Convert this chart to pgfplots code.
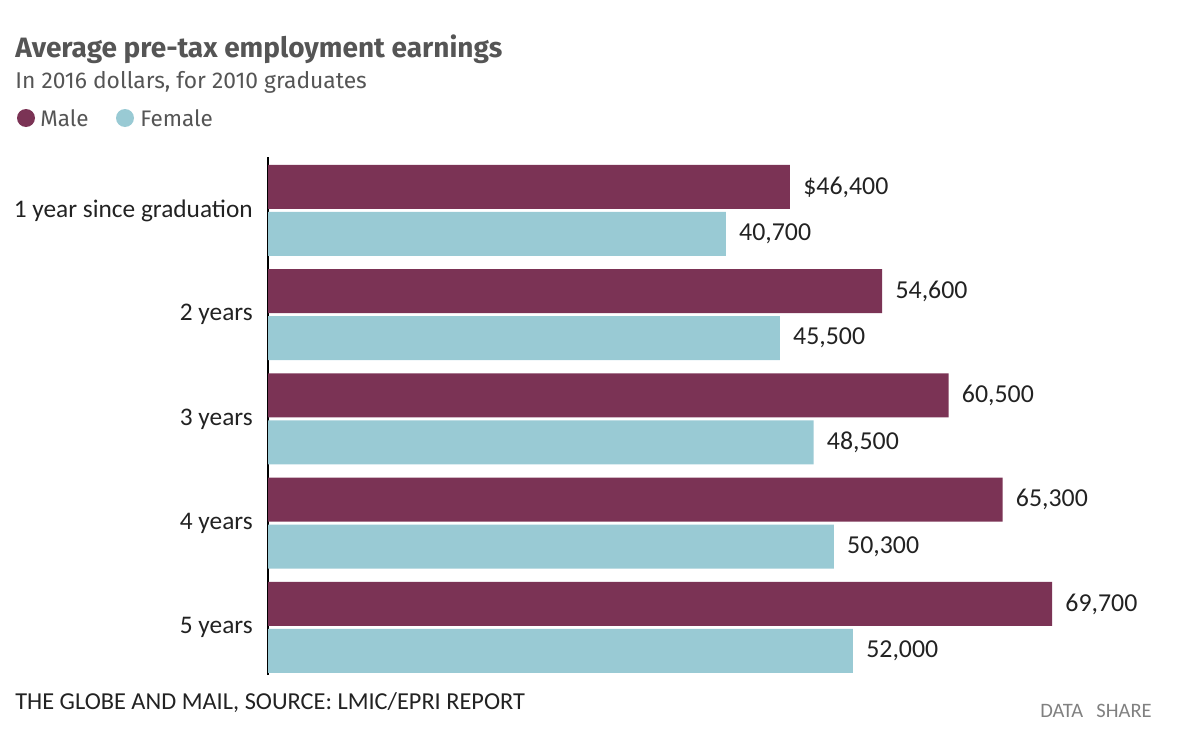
\documentclass[border=0pt]{standalone}
\usepackage{pgfplots}
\pgfplotsset{compat=1.18}
\usepackage{fontspec}
\setmainfont{Carlito}
\newfontfamily\fira{Fira Sans}
\definecolor{male}{HTML}{7B3355}
\definecolor{female}{HTML}{99CAD4}
\definecolor{titlegray}{HTML}{555555}
\definecolor{txt}{HTML}{222222}
\begin{document}
\begin{tikzpicture}
% 1 px of the reference = 0.6pt
\path[use as bounding box] (0,0) rectangle (720pt,-447pt);

\node[anchor=base west, inner sep=0pt, text=titlegray, font=\fira\bfseries\fontsize{16.8}{18}\selectfont]
  at (9pt,-34.2pt) {Average pre-tax employment earnings};
\node[anchor=base west, inner sep=0pt, text=titlegray, font=\fira\fontsize{13.7}{15}\selectfont]
  at (9pt,-52.8pt) {In 2016 dollars, for 2010 graduates};
\fill[male] (15.6pt,-70.8pt) circle (5.4pt);
\node[anchor=base west, inner sep=0pt, text=titlegray, font=\fira\fontsize{13.5}{15}\selectfont]
  at (24pt,-75.6pt) {Male};
\fill[female] (75pt,-70.8pt) circle (5.4pt);
\node[anchor=base west, inner sep=0pt, text=titlegray, font=\fira\fontsize{13.5}{15}\selectfont]
  at (84pt,-75.6pt) {Female};

\begin{axis}[
    at={(160.8pt,-405pt)}, anchor=south west,
    scale only axis, width=540pt, height=310.8pt,
    xmin=0, xmax=80000, ymin=-0.456, ymax=4.513,
    axis x line=none,
    axis y line*=left,
    y axis line style={line width=1pt, color=black},
    ytick={0,1,2,3,4},
    yticklabels={5 years,4 years,3 years,2 years,1 year since graduation},
    major tick length=0pt,
    yticklabel style={font=\fontsize{15.2}{17}\selectfont, text=txt, inner sep=0pt, xshift=-9pt},
    point meta=explicit symbolic,
    nodes near coords,
    every node near coord/.append style={anchor=west, inner sep=0pt, xshift=7.8pt,
        font=\fontsize{15.5}{17}\selectfont, text=txt},
    clip=false,
]
\addplot[xbar, bar width=26.4pt, bar shift=14.1pt, fill=male, draw=none,
    every node near coord/.append style={yshift=14.1pt}] coordinates {
    (46400,4) [\$46,400]
    (54600,3) [54,600]
    (60500,2) [60,500]
    (65300,1) [65,300]
    (69700,0) [69,700]
};
\addplot[xbar, bar width=26.4pt, bar shift=-14.1pt, fill=female, draw=none,
    every node near coord/.append style={yshift=-14.1pt}] coordinates {
    (40700,4) [40,700]
    (45500,3) [45,500]
    (48500,2) [48,500]
    (50300,1) [50,300]
    (52000,0) [52,000]
};
\end{axis}

\node[anchor=base west, inner sep=0pt, text=txt, font=\fontsize{14.6}{16}\selectfont]
  at (9pt,-425.4pt) {THE GLOBE AND MAIL, SOURCE: LMIC/EPRI REPORT};
\node[anchor=base east, inner sep=0pt, text=gray, font=\fontsize{12.3}{14}\selectfont]
  at (691.2pt,-430.2pt) {DATA\hspace{8pt}SHARE};
\end{tikzpicture}
\end{document}
